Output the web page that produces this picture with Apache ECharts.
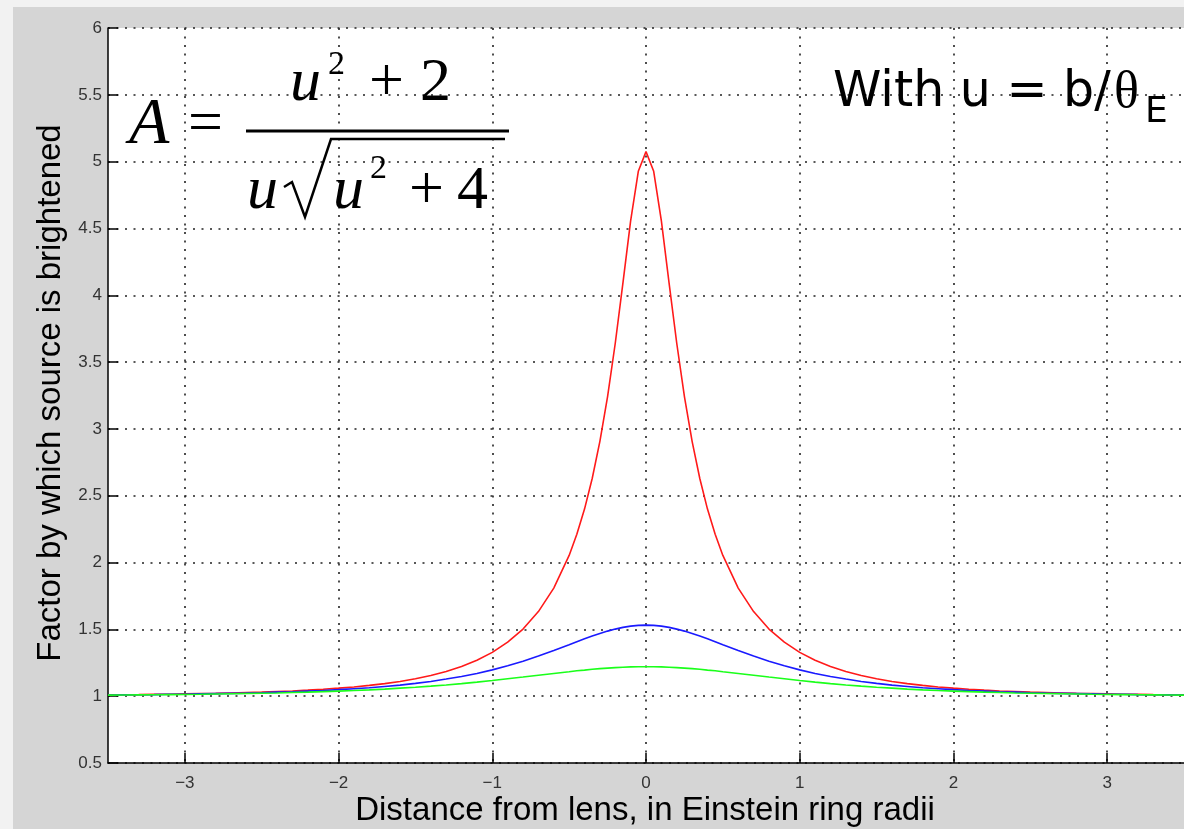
<!DOCTYPE html>
<html>
<head>
<meta charset="utf-8">
<script src="https://cdn.jsdelivr.net/npm/echarts@6/dist/echarts.min.js"></script>
<style>
  html, body { margin: 0; padding: 0; }
  #chart { width: 1184px; height: 829px; }
</style>
</head>
<body>
<div id="chart"></div>
<script>
// distance from lens (Einstein ring radii)
const xs = [
  -3.5,-3.4,-3.3,-3.2,-3.1,-3.0,-2.9,-2.8,-2.7,-2.6,-2.5,-2.4,-2.3,-2.2,-2.1,
  -2.0,-1.9,-1.8,-1.7,-1.6,-1.5,-1.4,-1.3,-1.2,-1.1,-1.0,-0.9,-0.8,-0.7,-0.6,-0.5,
  -0.45,-0.4,-0.35,-0.3,-0.25,-0.2,-0.15,-0.1,-0.05,0,0.05,0.1,0.15,0.2,0.25,0.3,0.35,0.4,0.45,
  0.5,0.6,0.7,0.8,0.9,1.0,1.1,1.2,1.3,1.4,1.5,1.6,1.7,1.8,1.9,2.0,
  2.1,2.2,2.3,2.4,2.5,2.6,2.7,2.8,2.9,3.0,3.1,3.2,3.3,3.4,3.5
]
// brightening factor
const redVals = [
  1.010,1.011,1.012,1.014,1.015,1.017,1.019,1.021,1.024,1.027,1.030,1.035,1.039,1.045,1.052,
  1.060,1.069,1.081,1.094,1.110,1.130,1.155,1.185,1.222,1.269,1.328,1.404,1.502,1.633,1.809,2.053,
  2.211,2.400,2.629,2.907,3.242,3.641,4.093,4.556,4.928,5.075,4.928,4.556,4.093,3.641,3.242,2.907,2.629,2.400,2.211,
  2.053,1.809,1.633,1.502,1.404,1.328,1.269,1.222,1.185,1.155,1.130,1.110,1.094,1.081,1.069,1.060,
  1.052,1.045,1.039,1.035,1.030,1.027,1.024,1.021,1.019,1.017,1.015,1.014,1.012,1.011,1.010
]
const blueVals = [
  1.009,1.010,1.011,1.012,1.014,1.015,1.017,1.019,1.021,1.023,1.026,1.030,1.033,1.038,1.043,
  1.049,1.056,1.063,1.073,1.083,1.096,1.110,1.128,1.147,1.170,1.197,1.227,1.262,1.300,1.342,1.385,
  1.407,1.429,1.450,1.469,1.487,1.502,1.515,1.524,1.530,1.532,1.530,1.524,1.515,1.502,1.487,1.469,1.450,1.429,1.407,
  1.385,1.342,1.300,1.262,1.227,1.197,1.170,1.147,1.128,1.110,1.096,1.083,1.073,1.063,1.056,1.049,
  1.043,1.038,1.033,1.030,1.026,1.023,1.021,1.019,1.017,1.015,1.014,1.012,1.011,1.010,1.009
]
const greenVals = [
  1.008,1.009,1.010,1.011,1.012,1.013,1.014,1.016,1.018,1.020,1.022,1.024,1.027,1.030,1.034,
  1.038,1.042,1.047,1.053,1.060,1.067,1.075,1.084,1.094,1.105,1.117,1.130,1.143,1.157,1.170,1.183,
  1.190,1.195,1.201,1.206,1.210,1.214,1.217,1.219,1.220,1.220,1.220,1.219,1.217,1.214,1.210,1.206,1.201,1.195,1.190,
  1.183,1.170,1.157,1.143,1.130,1.117,1.105,1.094,1.084,1.075,1.067,1.060,1.053,1.047,1.042,1.038,
  1.034,1.030,1.027,1.024,1.022,1.020,1.018,1.016,1.014,1.013,1.012,1.011,1.010,1.009,1.008
]
const xTicks = [-3,-2,-1,0,1,2,3]
const xLabel = 'Distance from lens, in Einstein ring radii'
const yLabel = 'Factor by which source is brightened'

const dotted = { color:'#222', width:1.6, type:[2,6.5] }
const serif = '"Liberation Serif", "Times New Roman", serif'
const sans = '"Liberation Sans", Arial, sans-serif'

function txt(text, x, y, font, align, rotation){
  return {
    type:'text', z:100, x, y, rotation:rotation || 0,
    style:{ text, x:0, y:0, font, fill:'#000', align:align || 'left', verticalAlign:'middle',
            textAlign:align || 'left', textVerticalAlign:'middle' }
  }
}

function line(vals, color){
  return {
    type:'line',
    data:xs.map((x,i)=>[x, vals[i]]),
    showSymbol:false,
    silent:true,
    lineStyle:{ color, width:1.6 },
    clip:true
  }
}

const options = {
  animation:false,
  backgroundColor:'#d5d5d5',
  grid:{ left:108, top:28, right:-2, bottom:66, show:true, backgroundColor:'#fff', borderWidth:0 },
  xAxis:{
    type:'value', min:-3.5, max:3.5,
    axisLine:{ onZero:false, lineStyle:{ color:'#000', width:1.5 } },
    axisTick:{ inside:true, length:10, customValues:xTicks, lineStyle:{ color:'#000', width:1.5 } },
    axisLabel:{
      customValues:xTicks, margin:12, color:'#333', fontSize:17, fontFamily:sans,
      formatter:v=>String(v).replace('-','\u2212')
    },
    splitLine:{ show:true, lineStyle:dotted }
  },
  yAxis:{
    type:'value', min:0.5, max:6, interval:0.5,
    axisLine:{ show:true, onZero:false, lineStyle:{ color:'#000', width:1.5 } },
    axisTick:{ show:true, inside:true, length:10, lineStyle:{ color:'#000', width:1.5 } },
    axisLabel:{ margin:6, color:'#333', fontSize:17, fontFamily:sans },
    splitLine:{ show:true, lineStyle:dotted }
  },
  series:[
    line(redVals, '#ff1a1a'),
    line(blueVals, '#1a1aff'),
    line(greenVals, '#1aff1a')
  ],
  graphic:[
    { type:'rect', shape:{ x:0, y:0, width:1184, height:7 }, style:{ fill:'#f2f2f2' } },
    { type:'rect', shape:{ x:0, y:0, width:13, height:829 }, style:{ fill:'#f2f2f2' } },
    // axis titles
    txt(xLabel, 645, 811, '33px ' + sans, 'center'),
    txt(yLabel, 51, 393, '33px ' + sans, 'center', Math.PI/2),
    // formula A = (u^2+2) / (u sqrt(u^2+4))
    txt('A', 129, 126, 'italic 66px ' + serif),
    txt('=', 188, 126, '62px ' + serif),
    txt('u', 290, 84, 'italic 62px ' + serif),
    txt('2', 328, 65, '34px ' + serif),
    txt('+', 369, 84, '62px ' + serif),
    txt('2', 420, 84, '62px ' + serif),
    { type:'line', z:100, shape:{ x1:246, y1:131, x2:509, y2:131 }, style:{ stroke:'#000', lineWidth:3 } },
    txt('u', 247, 192, 'italic 62px ' + serif),
    { type:'polyline', z:100, shape:{ points:[[284,187],[292,182],[305,217],[331,139],[505,139]] },
      style:{ stroke:'#000', lineWidth:2.5, fill:null } },
    txt('u', 333, 192, 'italic 62px ' + serif),
    txt('2', 370, 169, '34px ' + serif),
    txt('+', 409, 192, '62px ' + serif),
    txt('4', 457, 192, '62px ' + serif),
    // u definition
    txt('With u = b/', 833, 93, '49px "DejaVu Sans", sans-serif'),
    txt('\u03b8', 1114, 93, '52px ' + serif),
    txt('E', 1145, 113, '36px "DejaVu Sans", sans-serif')
  ]
}

const chart = echarts.init(document.getElementById('chart'))
chart.setOption(options)
</script>
</body>
</html>
